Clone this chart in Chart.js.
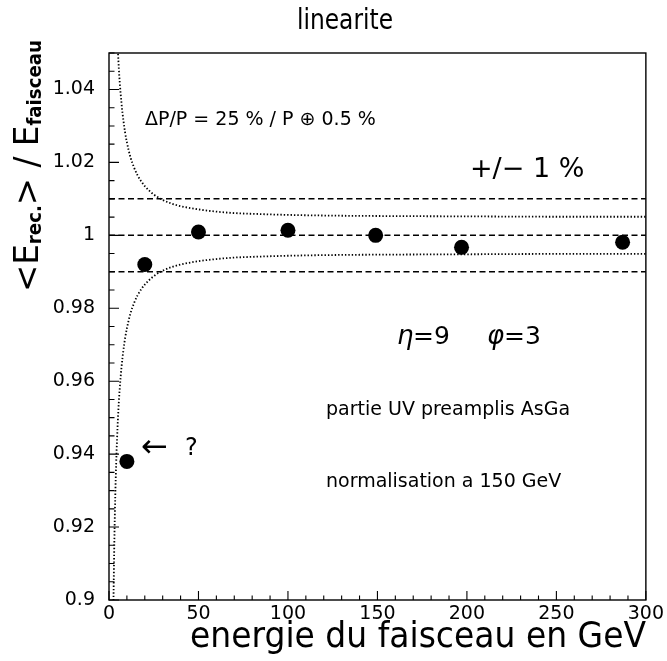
<!DOCTYPE html>
<html>
<head>
<meta charset="utf-8">
<script src="https://cdn.jsdelivr.net/npm/chart.js@4.4.1/dist/chart.umd.min.js"></script>
<style>
  html, body { margin: 0; padding: 0; background: #ffffff; }
  #wrap { width: 667px; height: 661px; }
</style>
</head>
<body>
<div id="wrap"><canvas id="c" width="667" height="661"></canvas></div>
<script>
// Beam energies (GeV) and normalised reconstructed energy
const beamEnergy = [10, 20, 50, 100, 149, 197, 287];
const ratio      = [0.938, 0.992, 1.0009, 1.0014, 1.0, 0.9967, 0.9981];

// Resolution band: dP/P = 25%/P (+) 0.5%, sampled along the beam energy
const bandEnergy = [2.5, 3, 3.5, 4, 4.5, 5, 5.5, 6, 7, 8, 9, 10, 12, 14, 16, 18, 20, 25, 30, 35, 40, 50, 60, 70, 80, 100, 125, 150, 200, 250, 300];
const bandUpper  = [1.1001, 1.0835, 1.0716, 1.0627, 1.0558, 1.0503, 1.0457, 1.0420, 1.0361, 1.0317, 1.0282, 1.0255, 1.0214, 1.0186, 1.0164, 1.0148, 1.0135, 1.0112, 1.0097, 1.0087, 1.0080, 1.0071, 1.0065, 1.0061, 1.0059, 1.0056, 1.0054, 1.0053, 1.0052, 1.0051, 1.0051];
const bandLower  = [0.8999, 0.9165, 0.9284, 0.9373, 0.9442, 0.9497, 0.9543, 0.9580, 0.9639, 0.9683, 0.9718, 0.9745, 0.9786, 0.9814, 0.9836, 0.9852, 0.9865, 0.9888, 0.9903, 0.9913, 0.9920, 0.9929, 0.9935, 0.9939, 0.9941, 0.9944, 0.9946, 0.9947, 0.9948, 0.9949, 0.9949];

// +/- 1 % reference levels
const refLevels = [0.99, 1.0, 1.01];

// Axis ticks
const xTicks = [0, 50, 100, 150, 200, 250, 300];
const xTickLabels = ['0', '50', '100', '150', '200', '250', '300'];
const yTicks = [0.9, 0.92, 0.94, 0.96, 0.98, 1.0, 1.02, 1.04];
const yTickLabels = ['0.9', '0.92', '0.94', '0.96', '0.98', '1', '1.02', '1.04'];

const FONT = '"DejaVu Sans", "Liberation Sans", sans-serif';
const X_MIN = 0, X_MAX = 300, Y_MIN = 0.9, Y_MAX = 1.05;

const pts = (xs, ys) => xs.map((x, i) => ({ x: x, y: ys[i] }));

const datasets = [
  {
    label: 'mesures',
    data: pts(beamEnergy, ratio),
    showLine: false,
    pointRadius: 7.5,
    pointHoverRadius: 7.5,
    pointBackgroundColor: '#000',
    pointBorderColor: '#000',
    pointBorderWidth: 0
  }
];
refLevels.forEach(v => {
  datasets.push({
    label: 'ref ' + v,
    data: [{ x: X_MIN, y: v }, { x: X_MAX, y: v }],
    borderColor: '#000',
    borderWidth: 1.5,
    borderDash: [6, 3.5],
    pointRadius: 0,
    fill: false
  });
});
[bandUpper, bandLower].forEach((band, k) => {
  datasets.push({
    label: k === 0 ? 'resolution +' : 'resolution -',
    data: pts(bandEnergy, band),
    borderColor: '#000',
    borderWidth: 1.8,
    borderDash: [1.4, 2],
    pointRadius: 0,
    cubicInterpolationMode: 'monotone',
    fill: false
  });
});

function text(ctx, str, x, y, size, opts) {
  opts = opts || {};
  ctx.save();
  ctx.font = (opts.style || '') + ' ' + (opts.weight || 'normal') + ' ' + size + 'px ' + FONT;
  ctx.fillStyle = '#000';
  ctx.textAlign = opts.align || 'left';
  ctx.textBaseline = opts.baseline || 'middle';
  if (opts.width) ctx.fillText(str, x, y, opts.width); else ctx.fillText(str, x, y);
  ctx.restore();
}

// Frame, inward tick marks, title and annotations
const decor = {
  id: 'decor',
  afterDraw(chart) {
    const ctx = chart.ctx;
    const a = chart.chartArea;
    const xs = chart.scales.x, ys = chart.scales.y;
    ctx.save();
    ctx.strokeStyle = '#000';
    ctx.lineWidth = 1.4;
    ctx.strokeRect(a.left, a.top, a.right - a.left, a.bottom - a.top);

    ctx.lineWidth = 1.1;
    ctx.beginPath();
    for (let v = X_MIN; v <= X_MAX + 1e-9; v += 10) {
      const px = xs.getPixelForValue(v);
      const len = (Math.round(v) % 50 === 0) ? 9 : 4.5;
      ctx.moveTo(px, a.bottom);
      ctx.lineTo(px, a.bottom - len);
    }
    for (let i = 0; i <= 30; i++) {
      const v = Y_MIN + i * 0.005;
      const py = ys.getPixelForValue(v);
      const len = (i % 4 === 0) ? 10 : 5.5;
      ctx.moveTo(a.left, py);
      ctx.lineTo(a.left + len, py);
    }
    ctx.stroke();
    ctx.restore();

    // title
    text(ctx, 'linearite', 345, 21, 29, { align: 'center', width: 96 });

    // x axis title
    text(ctx, 'energie du faisceau en GeV', 646, 647, 36, { align: 'right', baseline: 'alphabetic', width: 456 });

    // y axis title, rotated, reading upwards
    ctx.save();
    ctx.translate(38, 292);
    ctx.rotate(-Math.PI / 2);
    const segs = [
      ['<', 34, 'normal', 0], ['E', 34, 'normal', 0], ['rec.', 19, 'bold', 3],
      ['>', 34, 'normal', 0], [' / ', 34, 'normal', 0], ['E', 34, 'normal', 0],
      ['faisceau', 19, 'bold', 3]
    ];
    let total = 0;
    segs.forEach(s => { ctx.font = s[2] + ' ' + s[1] + 'px ' + FONT; total += ctx.measureText(s[0]).width; });
    const f = 252 / total;
    ctx.scale(f, 1);
    ctx.fillStyle = '#000';
    ctx.textBaseline = 'alphabetic';
    let cx = 0;
    segs.forEach(s => {
      ctx.font = s[2] + ' ' + s[1] + 'px ' + FONT;
      ctx.fillText(s[0], cx, s[3]);
      cx += ctx.measureText(s[0]).width;
    });
    ctx.restore();

    // annotations
    text(ctx, 'ΔP/P = 25 % / P ⊕ 0.5 %', 145, 120, 19, { width: 270 });
    text(ctx, '+/− 1 %', 470, 170, 27, { width: 128 });
    text(ctx, 'η', 397, 337, 26, { style: 'italic' });
    text(ctx, '=9', 413, 337, 25);
    text(ctx, 'φ', 487, 337, 26, { style: 'italic' });
    text(ctx, '=3', 504, 337, 25);
    text(ctx, 'partie UV preamplis AsGa', 326, 410, 19, { width: 270 });
    text(ctx, 'normalisation a 150 GeV', 326, 482, 19, { width: 272 });
    text(ctx, '←', 141, 449, 32, { width: 30 });
    text(ctx, '?', 185, 449, 24);
  }
};

new Chart(document.getElementById('c'), {
  type: 'line',
  data: { datasets: datasets },
  plugins: [decor],
  options: {
    responsive: false,
    animation: false,
    events: [],
    layout: { padding: { left: 0, top: 53, right: 19, bottom: 0 } },
    plugins: { legend: { display: false }, tooltip: { enabled: false } },
    scales: {
      x: {
        type: 'linear',
        min: X_MIN, max: X_MAX,
        border: { display: false },
        grid: { display: false, drawTicks: false },
        afterBuildTicks: s => { s.ticks = xTicks.map(v => ({ value: v })); },
        afterFit: s => { s.height = 61; },
        ticks: {
          padding: 3,
          color: '#000',
          font: { family: FONT, size: 19 },
          maxRotation: 0,
          callback: (v) => xTickLabels[xTicks.indexOf(v)]
        }
      },
      y: {
        type: 'linear',
        min: Y_MIN, max: Y_MAX,
        border: { display: false },
        grid: { display: false, drawTicks: false },
        afterBuildTicks: s => { s.ticks = yTicks.map(v => ({ value: v })); },
        afterFit: s => { s.width = 109; },
        ticks: {
          padding: 14,
          color: '#000',
          font: { family: FONT, size: 19 },
          callback: (v) => { const i = yTicks.findIndex(t => Math.abs(t - v) < 1e-9); return i >= 0 ? yTickLabels[i] : ''; }
        }
      }
    }
  }
});
</script>
</body>
</html>
